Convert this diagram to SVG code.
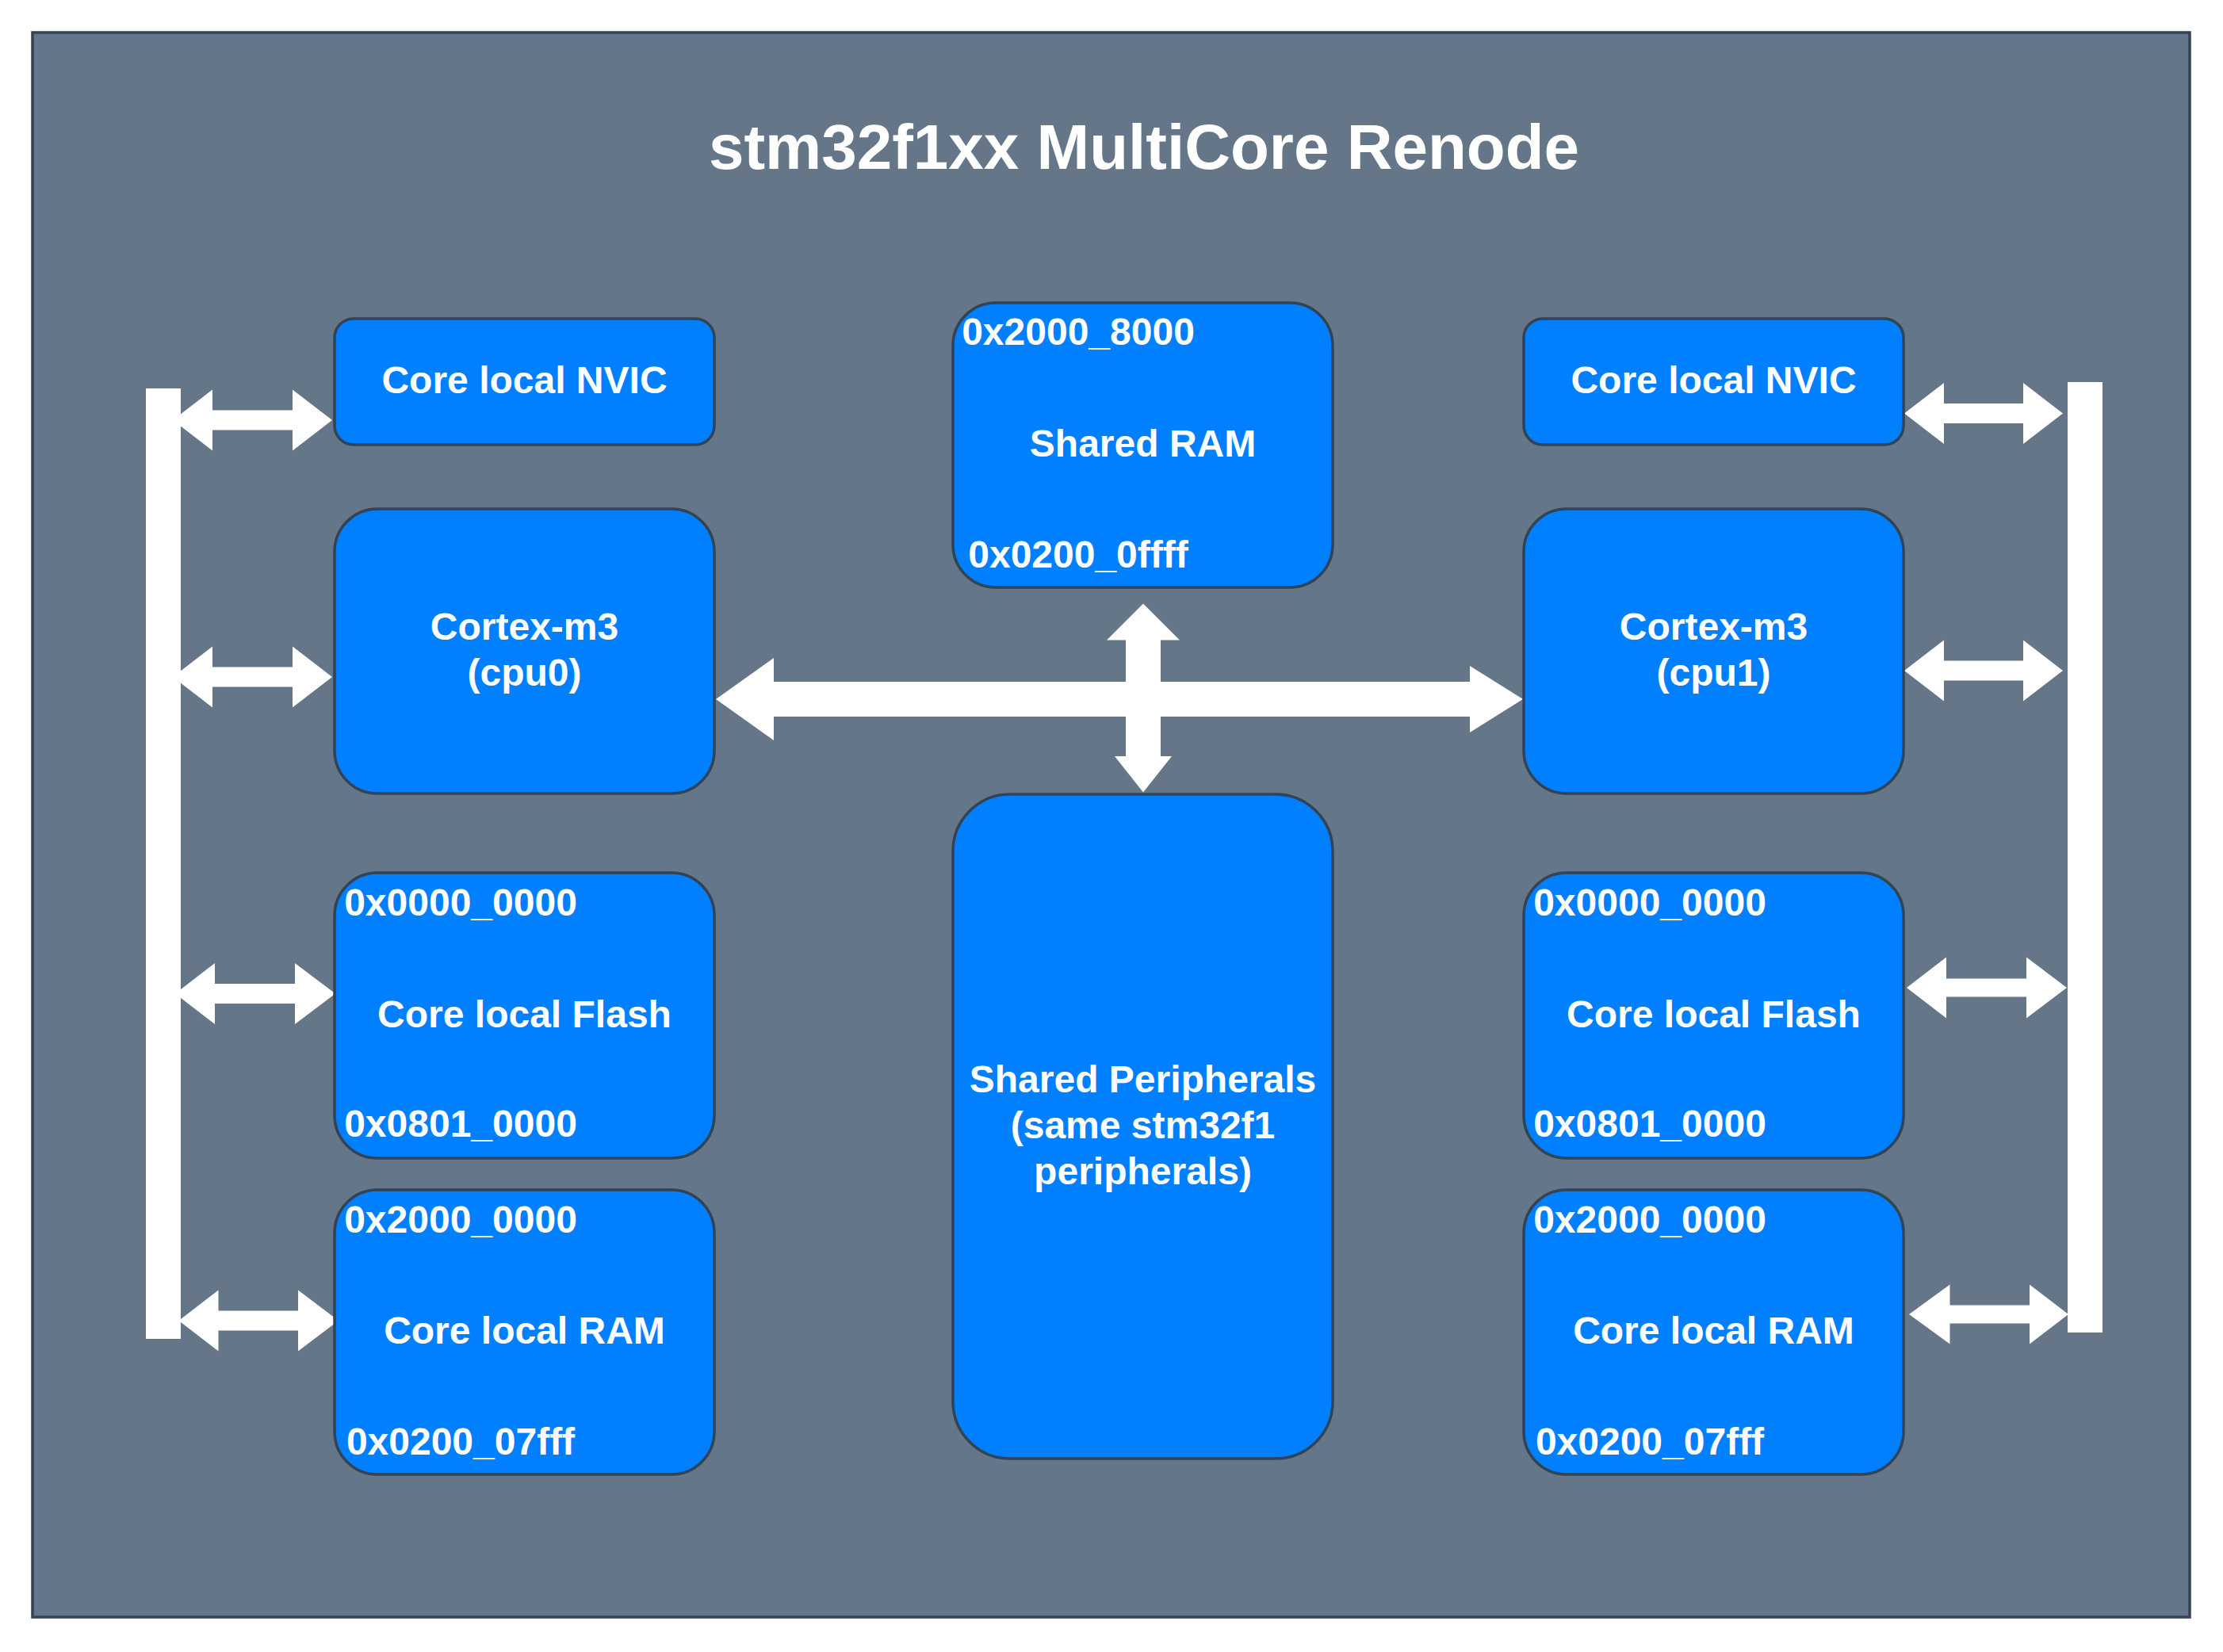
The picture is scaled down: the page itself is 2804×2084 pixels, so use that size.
<svg xmlns="http://www.w3.org/2000/svg" width="2804" height="2084" viewBox="0 0 2804 2084">
<style>
.bg{fill:#647687;stroke:#314354;stroke-width:3.5}
.box{fill:#007fff;stroke:#314354;stroke-width:3.5}
.bar{fill:#ffffff}
.arr{fill:#ffffff;stroke:none}
text{font-family:"Liberation Sans",Arial,Helvetica,sans-serif;font-weight:bold;fill:#ffffff}
.lbl{font-size:48px;text-anchor:middle}
.title{font-size:80px;text-anchor:middle}
</style>
<rect width="2804" height="2084" fill="#ffffff"/>
<g id="frame">
<rect class="bg" x="41" y="41" width="2721" height="1999"/>
<text class="title" x="1443" y="213">stm32f1xx MultiCore Renode</text>
</g>
<g id="connectors">
<polygon class="arr" points="218,530 268,491.5 268,517.5 369,517.5 369,491.5 419,530 369,568.5 369,542.5 268,542.5 268,568.5"/>
<polygon class="arr" points="218,854 268,815.5 268,841.5 369,841.5 369,815.5 419,854 369,892.5 369,866.5 268,866.5 268,892.5"/>
<polygon class="arr" points="221,1253.5 271,1215 271,1241 372,1241 372,1215 423,1253.5 372,1292 372,1266 271,1266 271,1292"/>
<polygon class="arr" points="225.5,1666 275.5,1627.5 275.5,1653.5 376,1653.5 376,1627.5 427,1666 376,1704.5 376,1678.5 275.5,1678.5 275.5,1704.5"/>
<polygon class="arr" points="2402,521.5 2452,483 2452,509 2552,509 2552,483 2602,521.5 2552,560 2552,534 2452,534 2452,560"/>
<polygon class="arr" points="2402,846 2452,807.5 2452,833.5 2552,833.5 2552,807.5 2602,846 2552,884.5 2552,858.5 2452,858.5 2452,884.5"/>
<polygon class="arr" points="2405,1246 2455,1207.5 2455,1234.5 2556,1234.5 2556,1207.5 2607,1246 2556,1284.5 2556,1257.5 2455,1257.5 2455,1284.5"/>
<polygon class="arr" points="2408,1658 2459.5,1620.5 2459.5,1646.5 2560,1646.5 2560,1620.5 2609,1658 2560,1695.5 2560,1669.5 2459.5,1669.5 2459.5,1695.5"/>
<polygon class="arr" points="903,882 976,830 976,860 1854,860 1854,840 1921,882 1854,924 1854,904 976,904 976,934"/>
<polygon class="arr" points="1442,761.5 1488,807.5 1464,807.5 1464,954 1478,954 1442,999.5 1406,954 1420,954 1420,807.5 1396,807.5"/>
</g>
<g id="bus-left"><rect class="bar" x="184" y="490" width="44" height="1199"/></g>
<g id="bus-right"><rect class="bar" x="2608" y="482" width="44" height="1199"/></g>
<g id="nvic0">
<rect class="box" x="422" y="402" width="479" height="159" rx="24" ry="24"/>
<text class="lbl" x="661.5" y="495.5">Core local NVIC</text>
</g>
<g id="cpu0">
<rect class="box" x="422" y="642" width="479" height="359" rx="54" ry="54"/>
<text class="lbl" x="661.5" y="807">Cortex-m3</text>
<text class="lbl" x="661.5" y="865">(cpu0)</text>
</g>
<g id="flash0">
<rect class="box" x="422" y="1101" width="479" height="360" rx="54" ry="54"/>
<text class="lbl" x="581" y="1155">0x0000_0000</text>
<text class="lbl" x="661.5" y="1295.5">Core local Flash</text>
<text class="lbl" x="581" y="1434">0x0801_0000</text>
</g>
<g id="ram0">
<rect class="box" x="422" y="1501" width="479" height="359" rx="54" ry="54"/>
<text class="lbl" x="581" y="1555">0x2000_0000</text>
<text class="lbl" x="661.5" y="1695">Core local RAM</text>
<text class="lbl" x="581" y="1835">0x0200_07fff</text>
</g>
<g id="shared-ram">
<rect class="box" x="1202" y="382" width="479" height="359" rx="54" ry="54"/>
<text class="lbl" x="1360" y="435">0x2000_8000</text>
<text class="lbl" x="1441.5" y="575.5">Shared RAM</text>
<text class="lbl" x="1360" y="716">0x0200_0ffff</text>
</g>
<g id="shared-peripherals">
<rect class="box" x="1202" y="1002" width="479" height="838" rx="72" ry="72"/>
<text class="lbl" x="1441.5" y="1378">Shared Peripherals</text>
<text class="lbl" x="1441.5" y="1436">(same stm32f1</text>
<text class="lbl" x="1441.5" y="1494">peripherals)</text>
</g>
<g id="nvic1">
<rect class="box" x="1922" y="402" width="479" height="159" rx="24" ry="24"/>
<text class="lbl" x="2161.5" y="495.5">Core local NVIC</text>
</g>
<g id="cpu1">
<rect class="box" x="1922" y="642" width="479" height="359" rx="54" ry="54"/>
<text class="lbl" x="2161.5" y="807">Cortex-m3</text>
<text class="lbl" x="2161.5" y="865">(cpu1)</text>
</g>
<g id="flash1">
<rect class="box" x="1922" y="1101" width="479" height="360" rx="54" ry="54"/>
<text class="lbl" x="2081" y="1155">0x0000_0000</text>
<text class="lbl" x="2161.5" y="1295.5">Core local Flash</text>
<text class="lbl" x="2081" y="1434">0x0801_0000</text>
</g>
<g id="ram1">
<rect class="box" x="1922" y="1501" width="479" height="359" rx="54" ry="54"/>
<text class="lbl" x="2081" y="1555">0x2000_0000</text>
<text class="lbl" x="2161.5" y="1695">Core local RAM</text>
<text class="lbl" x="2081" y="1835">0x0200_07fff</text>
</g>
</svg>
